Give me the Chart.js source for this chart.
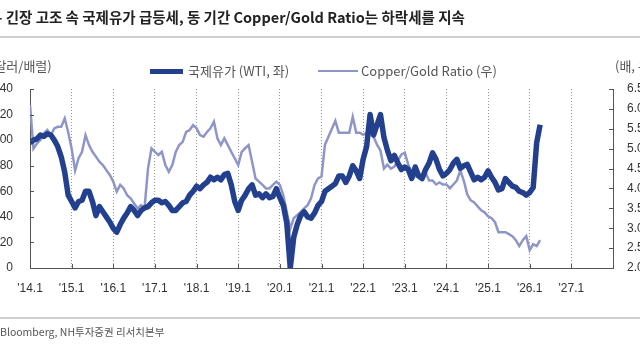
<!DOCTYPE html>
<html>
<head>
<meta charset="utf-8">
<script src="https://cdn.jsdelivr.net/npm/chart.js@4.4.0/dist/chart.umd.min.js"></script>
<style>
  html, body { margin: 0; padding: 0; background: #fff; }
  #wrap { position: relative; width: 640px; height: 360px; overflow: hidden; font-family: "Noto Sans CJK KR", "Noto Sans", sans-serif; }
  #wrap canvas { position: absolute; left: 0; top: 0; }
  .txt { position: absolute; white-space: nowrap; }
  #title { left: -3px; top: 6px; font-size: 14.5px; font-weight: bold; color: #222; }
  .rule { position: absolute; left: 0; width: 640px; height: 2px; background: #cfcfcf; }
  .unit { font-size: 13px; color: #555; top: 56px; }
  .leg { font-size: 13px; color: #555; top: 61px; }
  .legline { position: absolute; }
  #source { left: 0; top: 324px; font-size: 10.5px; color: #555; }
</style>
</head>
<body>
<div id="wrap">
  <canvas id="chart" width="640" height="360"></canvas>
  <div class="txt" id="title">- 긴장 고조 속 국제유가 급등세, 동 기간 Copper/Gold Ratio는 하락세를 지속</div>
  <div class="rule" style="top:36px"></div>
  <div class="txt unit" style="left:-10px">(달러/배럴)</div>
  <div class="txt unit" style="left:615px">(배, 우)</div>
  <div class="legline" style="left:150px;top:69px;width:33px;height:5px;background:#22408e"></div>
  <div class="txt leg" style="left:188px">국제유가 (WTI, 좌)</div>
  <div class="legline" style="left:318px;top:70px;width:40px;height:2px;background:#8e96c8"></div>
  <div class="txt leg" style="left:361px">Copper/Gold Ratio (우)</div>
  <div class="rule" style="top:317px"></div>
  <div class="txt" id="source">Bloomberg, NH투자증권 리서치본부</div>
</div>
<script>
// 월별 데이터 (2014.1 ~ 2026.4)
const startYear = 2014;

const wti = [
  98, 100, 101, 104, 103, 105, 104, 100, 95, 87, 75, 57,  // 2014
  52, 47, 52, 53, 60, 60, 52, 41, 48, 44, 40, 36,         // 2015
  31, 28, 34, 39, 43, 48, 45, 41, 45, 47, 48, 51,         // 2016
  53, 53, 51, 52, 49, 45, 45, 48, 51, 52, 57, 60,         // 2017
  64, 62, 65, 67, 71, 69, 71, 69, 73, 74, 65, 52,         // 2018
  45, 53, 57, 62, 65, 57, 58, 55, 58, 55, 56, 62,         // 2019
  55, 49, 35, 0, 24, 34, 41, 44, 40, 39, 43, 49,          // 2020
  52, 60, 62, 64, 66, 72, 72, 67, 72, 80, 76, 70,         // 2021
  85, 95, 120, 104, 112, 120, 102, 92, 84, 88, 82, 77,    // 2022
  79, 77, 70, 79, 72, 70, 77, 82, 90, 85, 77, 72,         // 2023
  74, 77, 82, 85, 78, 80, 81, 75, 69, 71, 69, 71,         // 2024
  76, 71, 67, 61, 62, 70, 67, 64, 63, 60, 59, 57,         // 2025
  59, 63, 98, 112                                         // 2026
];

const copperGold = [
  6.1, 5.0, 5.13, 5.22, 5.38, 5.47, 5.34, 5.51, 5.55, 5.55, 5.76, 5.42,   // 2014
  5.0, 4.45, 4.76, 4.92, 5.34, 5.09, 4.92, 4.80, 4.67, 4.59, 4.46, 4.34,  // 2015
  4.17, 3.92, 4.09, 4.00, 3.83, 3.75, 3.62, 3.50, 3.58, 3.50, 4.50, 5.01, // 2016
  4.92, 4.84, 4.92, 4.59, 4.42, 4.59, 4.92, 5.09, 5.17, 5.42, 5.47, 5.59, // 2017
  5.51, 5.34, 5.30, 5.42, 5.51, 5.68, 5.26, 5.09, 5.26, 5.09, 4.92, 4.76, // 2018
  4.59, 4.92, 5.01, 5.09, 4.67, 4.25, 4.17, 4.09, 4.00, 4.00, 4.09, 4.17, // 2019
  4.09, 3.83, 3.41, 2.99, 3.25, 3.33, 3.41, 3.50, 3.58, 3.75, 4.09, 4.25, // 2020
  4.3, 5.1, 5.3, 5.5, 5.7, 5.4, 5.4, 5.4, 5.4, 5.8, 5.4, 5.4,             // 2021
  5.35, 5.4, 5.5, 5.3, 5.1, 4.95, 4.5, 4.6, 4.5, 4.55, 4.7, 4.85,         // 2022
  4.9, 4.6, 4.4, 4.3, 4.3, 4.35, 4.4, 4.2, 4.2, 4.1, 4.15, 4.1,           // 2023
  4.1, 4.0, 4.1, 4.2, 4.45, 4.2, 3.85, 3.7, 3.65, 3.55, 3.45, 3.4,        // 2024
  3.3, 3.25, 3.15, 2.9, 2.9, 2.9, 2.85, 2.8, 2.7, 2.55, 2.7, 2.8,         // 2025
  2.45, 2.6, 2.55, 2.7                                                    // 2026
];

const xTickLabels = ["'14.1", "'15.1", "'16.1", "'17.1", "'18.1", "'19.1", "'20.1",
  "'21.1", "'22.1", "'23.1", "'24.1", "'25.1", "'26.1", "'27.1", ""];
const leftTicks = [0, 20, 40, 60, 80, 100, 120, 140];
const rightTicks = ['2.0', '2.5', '3.0', '3.5', '4.0', '4.5', '5.0', '5.5', '6.0', '6.5'];

const toPoints = arr => arr.map((v, i) => ({ x: startYear + i / 12, y: v }));

// 축 안쪽으로 향하는 눈금
const innerTicks = {
  id: 'innerTicks',
  afterDatasetsDraw(chart) {
    const ctx = chart.ctx;
    const a = chart.chartArea;
    ctx.save();
    ctx.strokeStyle = '#555';
    ctx.lineWidth = 1;
    ctx.beginPath();
    chart.scales.y.ticks.forEach(t => {
      const y = Math.round(chart.scales.y.getPixelForValue(t.value)) + 0.5;
      ctx.moveTo(a.left, y); ctx.lineTo(a.left + 4, y);
    });
    chart.scales.y2.ticks.forEach(t => {
      const y = Math.round(chart.scales.y2.getPixelForValue(t.value)) + 0.5;
      ctx.moveTo(a.right, y); ctx.lineTo(a.right - 4, y);
    });
    chart.scales.x.ticks.forEach(t => {
      const x = Math.round(chart.scales.x.getPixelForValue(t.value)) + 0.5;
      ctx.moveTo(x, a.bottom); ctx.lineTo(x, a.bottom - 4);
    });
    ctx.stroke();
    ctx.restore();
  }
};

const tickFont = { family: '"Liberation Sans", Arial, sans-serif', size: 12 };

new Chart(document.getElementById('chart').getContext('2d'), {
  type: 'line',
  data: {
    datasets: [
      {
        label: '국제유가 (WTI, 좌)',
        data: toPoints(wti),
        yAxisID: 'y',
        borderColor: '#22408e',
        borderWidth: 5.5,
        borderJoinStyle: 'round',
        pointRadius: 0,
        tension: 0
      },
      {
        label: 'Copper/Gold Ratio (우)',
        data: toPoints(copperGold),
        yAxisID: 'y2',
        borderColor: '#8e96c8',
        borderWidth: 2.5,
        pointRadius: 0,
        tension: 0
      }
    ]
  },
  options: {
    responsive: false,
    animation: false,
    events: [],
    layout: { padding: { top: 89, bottom: 62, left: 0, right: 0 } },
    plugins: {
      legend: { display: false },
      title: { display: false },
      tooltip: { enabled: false }
    },
    scales: {
      x: {
        type: 'linear',
        min: 2014,
        max: 2028,
        afterBuildTicks: s => { s.ticks = xTickLabels.map((_, i) => ({ value: startYear + i })); },
        ticks: {
          color: '#333',
          font: tickFont,
          padding: 13,
          maxRotation: 0,
          autoSkip: false,
          callback: (v, i) => xTickLabels[i]
        },
        grid: { drawTicks: false, color: '#999', lineWidth: 1 },
        border: { display: true, color: '#555', width: 1, dash: [1, 2] },
        afterFit: s => { s.height = 30; }
      },
      y: {
        position: 'left',
        min: 0,
        max: 140,
        afterBuildTicks: s => { s.ticks = leftTicks.map(v => ({ value: v })); },
        ticks: { color: '#333', font: tickFont, padding: 17 },
        grid: { display: false, drawTicks: false },
        border: { display: true, color: '#555', width: 1 },
        afterFit: s => { s.width = 30; }
      },
      y2: {
        position: 'right',
        min: 2.0,
        max: 6.5,
        afterBuildTicks: s => { s.ticks = rightTicks.map(v => ({ value: parseFloat(v) })); },
        ticks: { color: '#333', font: tickFont, padding: 14, callback: (v, i) => rightTicks[i] },
        grid: { display: false, drawTicks: false },
        border: { display: true, color: '#555', width: 1 },
        afterFit: s => { s.width = 27; }
      }
    }
  },
  plugins: [innerTicks]
});
</script>
</body>
</html>
